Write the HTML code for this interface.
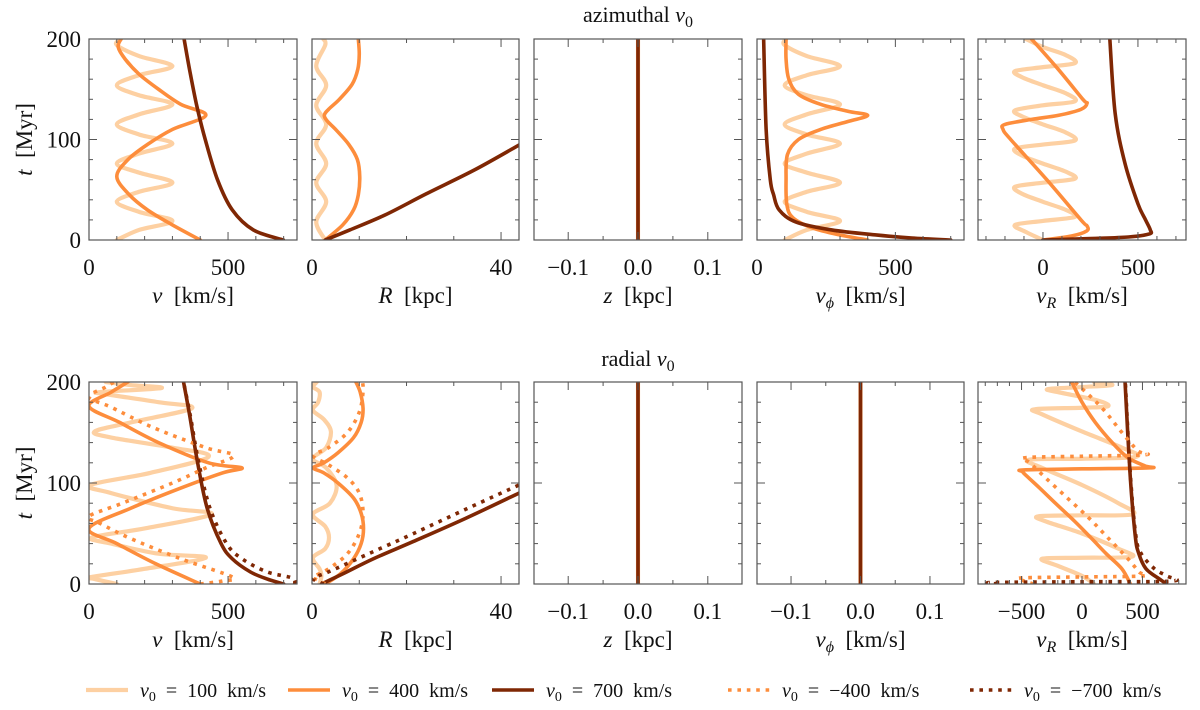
<!DOCTYPE html>
<html><head><meta charset="utf-8"><style>
html,body{margin:0;padding:0;background:#fff;}
svg{display:block;}
svg text{font-family:"Liberation Serif",serif;}
</style></head><body>
<svg id="chart" width="1200" height="710" viewBox="0 0 1200 710"></svg>
<script>
// ---------- data: [t (Myr), value] ----------
const tTicksMajor = [0,100,200];
const tTickLabels = ["0","100","200"];
// top row (azimuthal v0)
const topV100 = [[0,100],[10,180],[19,300],[28,180],[38,100],[48,180],[57,300],[67,180],[76,100],[86,180],[96,300],[105,180],[115,100],[125,180],[135,300],[144,180],[154,100],[164,180],[173,300],[183,180],[194,100],[200,115]];
const topV400 = [[0,400],[15,300],[30,210],[45,145],[63,100],[80,140],[95,210],[110,300],[124,420],[135,330],[150,250],[165,180],[180,130],[192,105],[200,115]];
const topV700 = [[0,699],[10,591],[30,515],[60,462],[100,418],[133,388],[169,362],[200,342]];
const topR100 = [[0,2.8],[18,0.9],[38,3.0],[57,0.9],[76,3.0],[96,0.9],[115,3.0],[134,0.9],[154,3.0],[173,0.9],[194,2.8],[200,2.4]];
const topR400 = [[0,2.8],[15,6.5],[30,8.8],[45,9.8],[63,10.1],[80,9.6],[95,7.8],[110,5],[118,3.3],[124,2.6],[130,3.5],[140,5.8],[155,8.5],[170,9.7],[185,10],[200,9.8]];
const topR700 = [[0,2.8],[10,8],[25,15.5],[46,24.2],[70,34.5],[95,44]];
const zeroLine = [[0,0],[200,0]];
const topVphi100 = [[0,100],[10,180],[19,300],[28,180],[38,100],[48,180],[57,300],[67,180],[76,100],[86,180],[96,300],[105,180],[115,100],[125,180],[135,300],[144,180],[154,100],[164,180],[173,300],[183,180],[194,100],[200,105]];
const topVphi400 = [[0,400],[5,300],[12,200],[22,130],[35,108],[60,105],[85,110],[100,150],[110,230],[118,330],[124,400],[128,330],[135,230],[145,150],[160,115],[180,105],[200,105]];
const topVphi700 = [[0,700],[2,560],[5,430],[10,270],[18,140],[30,80],[45,60],[60,48],[110,33],[200,24]];
const topVR100 = [[0,0],[8,-90],[15,-147],[19,0],[23,168],[30,120],[38,0],[46,-110],[53,-147],[57,0],[61,168],[68,120],[76,0],[84,-110],[91,-147],[95,0],[99,168],[107,120],[115,0],[123,-110],[129,-147],[134,0],[138,168],[146,120],[154,0],[162,-110],[168,-147],[172,0],[176,168],[184,120],[192,0],[200,-90]];
const topVR400 = [[0,0],[4,150],[9,230],[14,232],[20,200],[60,20],[100,-170],[110,-210],[115,-200],[120,-60],[124,80],[130,200],[136,232],[140,210],[170,80],[200,-60]];
const topVR700 = [[0,0],[1.5,250],[3,450],[6,560],[10,565],[20,540],[36,500],[76,432],[126,380],[200,352]];
// bottom row (radial v0)
const botV100 = [[0,100],[5,20],[7,10],[15,200],[26,420],[30,250],[40,80],[46,10],[55,200],[69,440],[75,300],[90,80],[98,5],[110,220],[126,430],[135,300],[145,80],[151,20],[160,150],[174,370],[180,250],[188,60],[190,40],[194,260],[197,150],[200,60]];
const botV400 = [[0,400],[20,240],[40,100],[55,0],[75,150],[95,330],[110,480],[115,550],[120,430],[140,250],[160,110],[176,0],[190,80],[200,140]];
const botV700 = [[0,700],[5,640],[12,580],[25,515],[40,475],[75,425],[121,390],[167,362],[200,340]];
const botVm400 = [[0,400],[3,480],[7,515],[25,330],[45,150],[60,40],[67,0],[80,120],[100,300],[115,420],[127,520],[135,420],[155,230],[175,80],[185,0],[195,60],[200,90]];
const botVm700 = [[0,740],[6,730],[12,640],[25,550],[40,495],[75,435],[121,394],[167,364],[200,340]];
const botR100 = [[0,1.6],[8,2.0],[15,1.6],[26,0.2],[35,2.8],[46,3.6],[57,2.8],[69,0.2],[80,3.8],[98,5.2],[115,3.0],[124,0.2],[135,3.0],[151,4.0],[163,2.5],[172,0.2],[180,1.3],[190,1.6],[195,0.3],[200,1.0]];
const botR400 = [[0,2.8],[10,6],[25,8.8],[40,10.4],[55,10.9],[70,10.4],[85,8.8],[100,5.5],[110,2.5],[115,0.3],[120,2.5],[130,5.5],[145,8.8],[160,10.4],[174,10.8],[190,10.2],[200,9.3]];
const botR700 = [[0,2.0],[10,6.5],[25,13],[42,21.4],[65,32.5],[90,43.8]];
const botRm400 = [[0,2.8],[4,1.2],[7,0.3],[15,3.5],[30,7.5],[50,10],[70,10.8],[90,10],[105,7.5],[118,3.5],[127,0.3],[135,3.5],[150,7.5],[170,10],[190,10.8],[200,10.7]];
const botRm700 = [[0,2.5],[3,1],[6,0.3],[12,3.5],[30,12],[50,21.5],[75,33],[98,43.8]];
const botVR100 = [[0,100],[8,0],[18,-200],[25,-330],[26,0],[27,411],[35,300],[50,0],[62,-300],[67,-360],[68,0],[69,420],[80,300],[98,0],[115,-330],[123,-440],[124,0],[126,450],[135,330],[151,0],[168,-330],[173,-390],[174.5,0],[176,215],[182,120],[190,-200],[193,-280],[195,0],[197,250],[200,100]];
const botVR400 = [[0,400],[15,330],[30,200],[45,80],[62,-60],[80,-220],[95,-350],[105,-440],[111,-490],[113,-480],[114,0],[115,560],[117,520],[125,380],[140,250],[160,110],[180,0],[200,-85]];
const botVR700 = [[0,700],[5,640],[15,530],[30,470],[48,440],[108,398],[200,356]];
const botVRm400 = [[0,-400],[3,-480],[6,-500],[7,0],[8,500],[12,470],[25,380],[45,220],[65,60],[85,-120],[105,-300],[120,-430],[125,-470],[126.5,0],[128,520],[132,460],[150,330],[175,160],[200,-60]];
const botVRm700 = [[0,-700],[1.5,-740],[2.2,0],[2.9,740],[8,700],[15,600],[30,490],[48,445],[108,400],[200,358]];

const C1="#fdd0a2", C4="#fd8d3c", C7="#7f2704";
const FONT='"Liberation Serif", serif';
const NS="http://www.w3.org/2000/svg";
const svg=document.getElementById('chart');
function mk(tag,attrs,parent){const e=document.createElementNS(NS,tag);for(const k in attrs)e.setAttribute(k,attrs[k]);(parent||svg).appendChild(e);return e;}

const colsX=[[89,297],[312,519],[534,742],[757,964],[978,1186]];
const rowsY=[[39,240],[382,584]];

function catmull(pts){
  if(pts.length<2)return "";
  let d="M"+pts[0][0].toFixed(2)+","+pts[0][1].toFixed(2);
  for(let i=0;i<pts.length-1;i++){
    const p0=pts[Math.max(i-1,0)],p1=pts[i],p2=pts[i+1],p3=pts[Math.min(i+2,pts.length-1)];
    const c1=[p1[0]+(p2[0]-p0[0])/6,p1[1]+(p2[1]-p0[1])/6];
    const c2=[p2[0]-(p3[0]-p1[0])/6,p2[1]-(p3[1]-p1[1])/6];
    d+="C"+c1[0].toFixed(2)+","+c1[1].toFixed(2)+" "+c2[0].toFixed(2)+","+c2[1].toFixed(2)+" "+p2[0].toFixed(2)+","+p2[1].toFixed(2);
  }
  return d;
}
const panels=[
 {r:0,c:0,dom:[0,748],maj:[0,500],lab:["0","500"],minStep:100,title:"v",sub:"",unit:"[km/s]",series:[[topV100,C1,0],[topV400,C4,0],[topV700,C7,0]]},
 {r:0,c:1,dom:[0,43.8],maj:[0,40],lab:["0","40"],minStep:10,title:"R",sub:"",unit:"[kpc]",series:[[topR100,C1,0],[topR400,C4,0],[topR700,C7,0]]},
 {r:0,c:2,dom:[-0.149,0.149],maj:[-0.1,0,0.1],lab:["\u22120.1","0.0","0.1"],minStep:0.05,title:"z",sub:"",unit:"[kpc]",series:[[zeroLine,C1,0],[zeroLine,C4,0],[zeroLine,C7,0]]},
 {r:0,c:3,dom:[0,748],maj:[0,500],lab:["0","500"],minStep:100,title:"v",sub:"\u03d5",unit:"[km/s]",series:[[topVphi100,C1,0],[topVphi400,C4,0],[topVphi700,C7,0]]},
 {r:0,c:4,dom:[-342,753],maj:[0,500],lab:["0","500"],minStep:100,title:"v",sub:"R",unit:"[km/s]",series:[[topVR100,C1,0],[topVR400,C4,0],[topVR700,C7,0]]},
 {r:1,c:0,dom:[0,748],maj:[0,500],lab:["0","500"],minStep:100,title:"v",sub:"",unit:"[km/s]",series:[[botV100,C1,0],[botV400,C4,0],[botV700,C7,0],[botVm400,C4,1],[botVm700,C7,1]]},
 {r:1,c:1,dom:[0,43.8],maj:[0,40],lab:["0","40"],minStep:10,title:"R",sub:"",unit:"[kpc]",series:[[botR100,C1,0],[botR400,C4,0],[botR700,C7,0],[botRm400,C4,1],[botRm700,C7,1]]},
 {r:1,c:2,dom:[-0.149,0.149],maj:[-0.1,0,0.1],lab:["\u22120.1","0.0","0.1"],minStep:0.05,title:"z",sub:"",unit:"[kpc]",series:[[zeroLine,C1,0],[zeroLine,C4,0],[zeroLine,C7,0]]},
 {r:1,c:3,dom:[-0.149,0.149],maj:[-0.1,0,0.1],lab:["\u22120.1","0.0","0.1"],minStep:0.05,title:"v",sub:"\u03d5",unit:"[km/s]",series:[[zeroLine,C1,0],[zeroLine,C4,0],[zeroLine,C7,0]]},
 {r:1,c:4,dom:[-860,860],maj:[-500,0,500],lab:["\u2212500","0","500"],minStep:100,title:"v",sub:"R",unit:"[km/s]",series:[[botVR100,C1,0],[botVR400,C4,0],[botVR700,C7,0],[botVRm400,C4,1],[botVRm700,C7,1]]}
];
const defs=mk('defs',{});
panels.forEach((p,pi)=>{
  const [x0,x1]=colsX[p.c],[y0,y1]=rowsY[p.r];
  const sx=v=>x0+(v-p.dom[0])/(p.dom[1]-p.dom[0])*(x1-x0);
  const sy=t=>y1-t/200*(y1-y0);
  const g=mk('g',{});
  
  
  const cp=mk('clipPath',{id:'cp'+pi},defs);
  mk('rect',{x:x0,y:y0,width:x1-x0,height:y1-y0},cp);
  const sg=mk('g',{'clip-path':'url(#cp'+pi+')'},g);
  p.series.forEach((s,si)=>{
    const pts=s[0].map(d=>[sx(d[1]),sy(d[0])]);
    const path=mk('path',{d:catmull(pts),fill:'none',stroke:s[1],'stroke-width':s[1]===C1?4.2:3.6,'stroke-linejoin':'round','stroke-linecap':s[2]?'butt':'round'},sg);
    if(s[2])path.setAttribute('stroke-dasharray','3.6 5.8');
    
    
  });
  const tk=(x1a,y1a,x2a,y2a)=>mk('line',{x1:x1a,y1:y1a,x2:x2a,y2:y2a,stroke:'#555','stroke-width':1},g);
  const st=p.minStep;
  for(let v=Math.ceil(p.dom[0]/st)*st;v<=p.dom[1]+1e-9;v+=st){
    const isMaj=p.maj.some(m=>Math.abs(m-v)<st/10);
    const L=isMaj?8:4, x=sx(v);
    tk(x,y1,x,y1-L); tk(x,y0,x,y0+L);
  }
  for(let t=0;t<=200;t+=20){
    const isMaj=t%100===0, L=isMaj?8:4, y=sy(t);
    tk(x0,y,x0+L,y); tk(x1,y,x1-L,y);
  }
  mk('rect',{x:x0,y:y0,width:x1-x0,height:y1-y0,fill:'none',stroke:'#555','stroke-width':1.2},g);
  p.maj.forEach((m,i)=>{
    const t=mk('text',{x:sx(m),y:y1+35,'font-size':23,'font-family':FONT,'text-anchor':'middle',fill:'#111'},g);
    t.textContent=p.lab[i];
    
    
  });
  const tt=mk('text',{x:(x0+x1)/2,y:y1+63,'font-size':23,'font-family':FONT,'text-anchor':'middle',fill:'#111'},g);
  
  
  const a=mk('tspan',{'font-style':'italic'},tt);a.textContent=p.title;
  if(p.sub){const b=mk('tspan',{'font-style':'italic','font-size':16,dy:5},tt);b.textContent=p.sub;const c=mk('tspan',{dy:-5},tt);c.textContent="\u2002"+p.unit;}
  else{const c=mk('tspan',{},tt);c.textContent="\u2002"+p.unit;}
  if(p.c===0){
    tTicksMajor.forEach((t,i)=>{
      const l=mk('text',{x:x0-8,y:sy(t)+8,'font-size':23,'font-family':FONT,'text-anchor':'end',fill:'#111'},g);
      l.textContent=tTickLabels[i];
      
      
    });
    const yc=(y0+y1)/2;
    const yl=mk('text',{x:0,y:0,'font-size':23,'font-family':FONT,'text-anchor':'middle',fill:'#111',transform:'translate(32,'+yc+') rotate(-90)'},g);
    
    
    const i1=mk('tspan',{'font-style':'italic'},yl);i1.textContent='t';
    const i2=mk('tspan',{},yl);i2.textContent='\u2002[Myr]';
  }
});
[["azimuthal",22],["radial",366]].forEach(([w,y])=>{
  const t=mk('text',{x:638,y:y,'font-size':22,'font-family':FONT,'text-anchor':'middle',fill:'#111'});
  
  
  const a=mk('tspan',{},t);a.textContent=w+' ';
  const b=mk('tspan',{'font-style':'italic'},t);b.textContent='v';
  const c=mk('tspan',{'font-size':16,dy:5},t);c.textContent='0';
});
const legLabels=["100","400","700","\u2212400","\u2212700"];
const legColors=[C1,C4,C7,C4,C7];
const legDash=[0,0,0,1,1];
const legX=[86,288,492,728,970];
legLabels.forEach((lab,i)=>{
  const g=mk('g',{});
  
  
  const ln=mk('line',{x1:legX[i],y1:690,x2:legX[i]+42,y2:690,stroke:legColors[i],'stroke-width':legColors[i]===C1?4.2:3.6},g);
  if(legDash[i])ln.setAttribute('stroke-dasharray','3.6 5.8');
  const t=mk('text',{x:legX[i]+54,y:697,'font-size':20,'font-family':FONT,fill:'#111'},g);
  const a=mk('tspan',{'font-style':'italic'},t);a.textContent='v';
  const b=mk('tspan',{'font-size':14,dy:4},t);b.textContent='0';
  const c=mk('tspan',{dy:-4},t);c.textContent='\u2002=\u2002'+lab+'\u2002km/s';
});
</script>
</body></html>
